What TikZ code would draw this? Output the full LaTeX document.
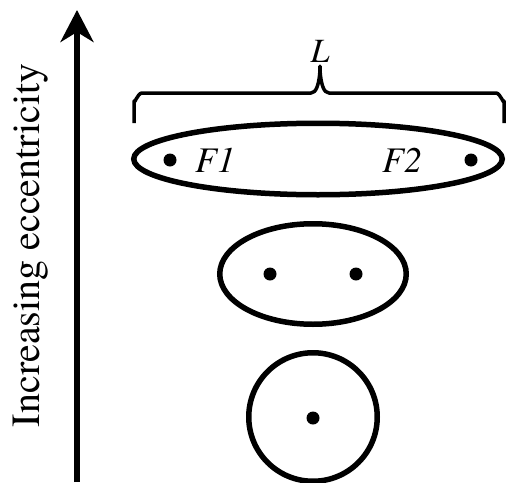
\documentclass[tikz,border=0pt]{standalone}
\usepackage{fontspec}
\setmainfont{texgyretermes}[Extension=.otf, UprightFont=*-regular, ItalicFont=*-italic, BoldFont=*-bold]
\usetikzlibrary{arrows.meta}
\tikzset{
  orbit/.style={line width=5.5pt},
  focus/.style={fill=black},
  lbl/.style={font=\fontsize{36}{40}\selectfont\itshape, inner sep=0pt, anchor=base},
}
\begin{document}
\begin{tikzpicture}[x=1pt,y=-1pt]
        \useasboundingbox (0,0) rectangle (506,482);
        % Axis arrow and its label
        \coordinate (Abot) at (77,482);
        \coordinate (Atop) at (77,10);
        \draw[line width=6.5pt, -{Stealth[length=32pt,width=33pt,inset=10pt]}] (Abot) -- (Atop);
        \node[rotate=90, anchor=base, inner sep=0pt, font=\fontsize{40}{48}\selectfont] (axis) at (39,245) {Increasing eccentricity};
        % Flat ellipse with its two foci
        \coordinate (E1) at (318,159);
        \draw[orbit] (E1) ellipse [x radius=184.25, y radius=35.75];
        \coordinate (F1) at (170,160);
        \coordinate (F2) at (471,160);
        \fill[focus] (F1) circle (6.5) (F2) circle (6.5);
        \node[lbl] (lblF1) at (215,172) {F1};
        \node[lbl] (lblF2) at (402,172) {F2};
        % Brace over the major axis
        \draw[line width=3.5pt, line join=round]
          (134,123) -- (134,101) to[out=-90,in=180] (142,93) -- (311,93)
          to[out=0,in=90] (320,68) to[out=90,in=180] (329,93) -- (496,93)
          to[out=0,in=-90] (504,101) -- (504,123);
        \node[lbl, font=\fontsize{34}{40}\selectfont\itshape] (lblL) at (320,62) {L};
        % Middle ellipse
        \coordinate (E2) at (313,274);
        \draw[orbit] (E2) ellipse [x radius=93.25, y radius=50.25];
        \fill[focus] (270,274) circle (6.5) (356,274) circle (6.5);
        % Circle, one focus
        \coordinate (E3) at (313,417);
        \draw[orbit] (E3) circle (64.25);
        \fill[focus] (313,418) circle (6.5);
      \end{tikzpicture}
\end{document}
